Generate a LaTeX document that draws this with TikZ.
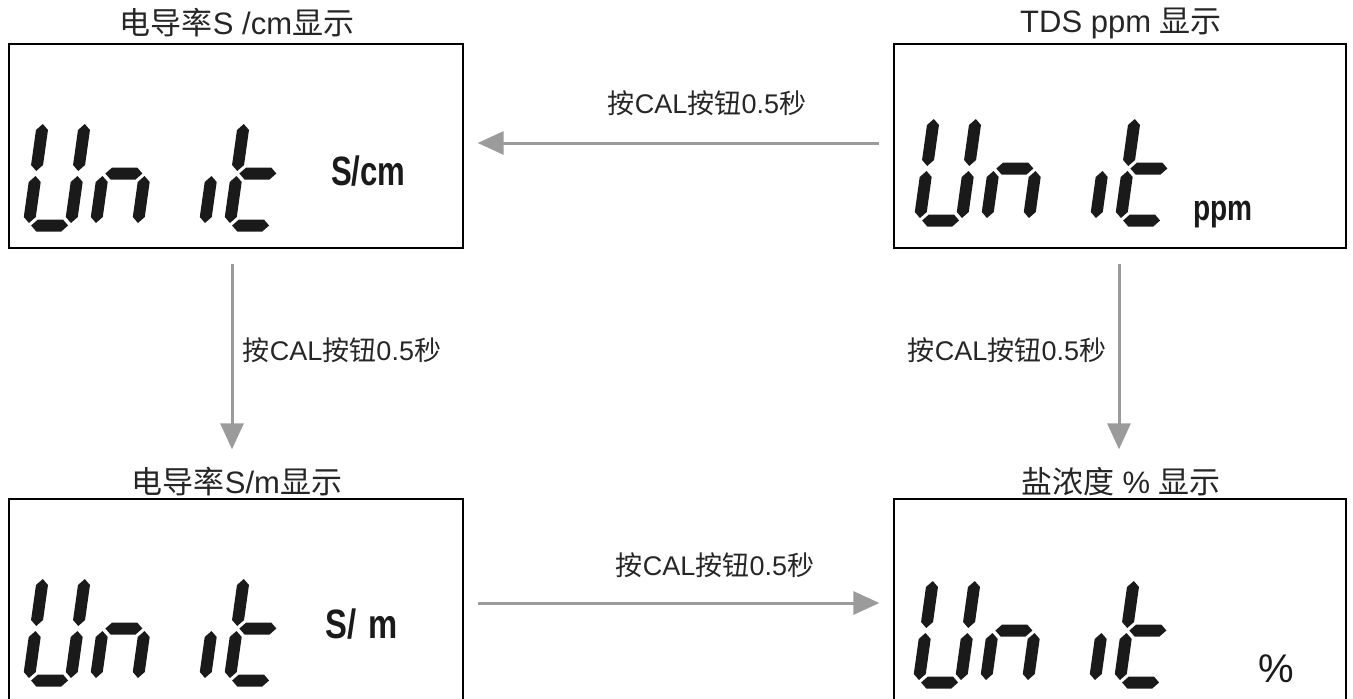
\documentclass[tikz,border=0pt]{standalone}
\usepackage{fontspec}
\usepackage{graphicx}
\setmainfont{Liberation Sans}
\newfontfamily\cjk{Noto Sans CJK SC}
\usetikzlibrary{arrows.meta}
\definecolor{arrowgray}{HTML}{9B9B9B}
\definecolor{lcdblack}{HTML}{1A1A1A}

\newcommand\LcdH[1]{\fill[lcdblack] (8.5,#1) -- ++(6,-6) -- ++(25,0) -- ++(6,6) -- ++(-6,6) -- ++(-25,0) -- cycle;}
\newcommand\LcdV[2]{\fill[lcdblack] (#1,#2) -- ++(6,6) -- ++(0,35) -- ++(-6,6) -- ++(-6,-6) -- ++(0,-35) -- cycle;}
\newcommand\LcdSega{\LcdH{6}}
\newcommand\LcdSegg{\LcdH{58}}
\newcommand\LcdSegd{\LcdH{110}}
\newcommand\LcdSegf{\LcdV{6}{8.5}}
\newcommand\LcdSege{\LcdV{6}{60.5}}
\newcommand\LcdSegb{\LcdV{48}{8.5}}
\newcommand\LcdSegc{\LcdV{48}{60.5}}
\newcommand\LcdDigit[3]{\begin{scope}[shift={(#1,#2)},xslant=0.14]\foreach \s in {#3}{\csname LcdSeg\s\endcsname}\end{scope}}
\newcommand\LcdUnit[2]{%
  \LcdDigit{#1}{#2}{b,c,d,e,f}%
  \LcdDigit{#1+67}{#2}{c,e,g}%
  \LcdDigit{#1+134}{#2}{c}%
  \LcdDigit{#1+201}{#2}{d,e,f,g}}

\tikzset{
  lcdbox/.style={draw=black, line width=1.3pt, inner sep=0pt},
  titletext/.style={font=\fontsize{31}{36}\selectfont, inner sep=0pt, text=black!85},
  lbl/.style={font=\fontsize{27}{32}\selectfont, inner sep=0pt, text=black!85},
  arr/.style={draw=arrowgray, line width=3pt, -{Triangle[length=26pt,width=23pt,fill=arrowgray]}},
  unitlbl/.style={font=\fontsize{41}{47}\selectfont\bfseries, inner sep=0pt, anchor=base west, text=lcdblack},
}

\begin{document}
\begin{tikzpicture}[x=1pt,y=-1pt]
\useasboundingbox (0,0) rectangle (1353,699);
\clip (0,0) rectangle (1353,699);

% boxes
\node[lcdbox, minimum width=454pt, minimum height=204pt] (tl) at (236,146) {};
\node[lcdbox, minimum width=452pt, minimum height=204pt] (tr) at (1120,146) {};
\node[lcdbox, minimum width=454pt, minimum height=240pt] (bl) at (236,619) {};
\node[lcdbox, minimum width=452pt, minimum height=240pt] (br) at (1120,619) {};

% titles
\node[titletext] (tlt) at (237,23) {{\cjk 电导率}S /cm{\cjk 显示}};
\node[titletext] (trt) at (1121,23) {TDS ppm {\cjk 显示}};
\node[titletext] (blt) at (237,482) {{\cjk 电导率}S/m{\cjk 显示}};
\node[titletext] (brt) at (1121,482) {{\cjk 盐浓度} \% {\cjk 显示}};

% LCD digits
\LcdUnit{38}{115.5}
\LcdUnit{929}{110.5}
\LcdUnit{38}{570.5}
\LcdUnit{928}{572.5}

% unit labels
\node[unitlbl] (u1) at (331,185) {\scalebox{0.76}[1]{S/cm}};
\node[unitlbl, font=\fontsize{36}{42}\selectfont\bfseries] (u2) at (1193,220) {\scalebox{0.78}[1]{ppm}};
\node[unitlbl] (u3) at (325,638) {\scalebox{0.8}[1]{S/\hspace{15pt}m}};
\node[font=\fontsize{40}{46}\selectfont, inner sep=0pt, anchor=base west, text=lcdblack] (u4) at (1258,682) {\%};

% arrow labels
\node[lbl] (l1) at (707,103) {{\cjk 按}CAL{\cjk 按钮}0.5{\cjk 秒}};
\node[lbl] (l2) at (342,350) {{\cjk 按}CAL{\cjk 按钮}0.5{\cjk 秒}};
\node[lbl] (l3) at (1007,350) {{\cjk 按}CAL{\cjk 按钮}0.5{\cjk 秒}};
\node[lbl] (l4) at (715,565) {{\cjk 按}CAL{\cjk 按钮}0.5{\cjk 秒}};

% arrows
\draw[arr] ([xshift=-14pt,yshift=3pt]tr.west) -- ([xshift=14pt,yshift=3pt]tl.east);
\draw[arr] ([xshift=-4pt,yshift=-15pt]tl.south) -- ([xshift=-4pt,yshift=49pt]bl.north);
\draw[arr] ([xshift=-1pt,yshift=-15pt]tr.south) -- ([xshift=-1pt,yshift=49pt]br.north);
\draw[arr] ([xshift=14pt,yshift=16pt]bl.east) -- ([xshift=-14pt,yshift=16pt]br.west);
\end{tikzpicture}
\end{document}
